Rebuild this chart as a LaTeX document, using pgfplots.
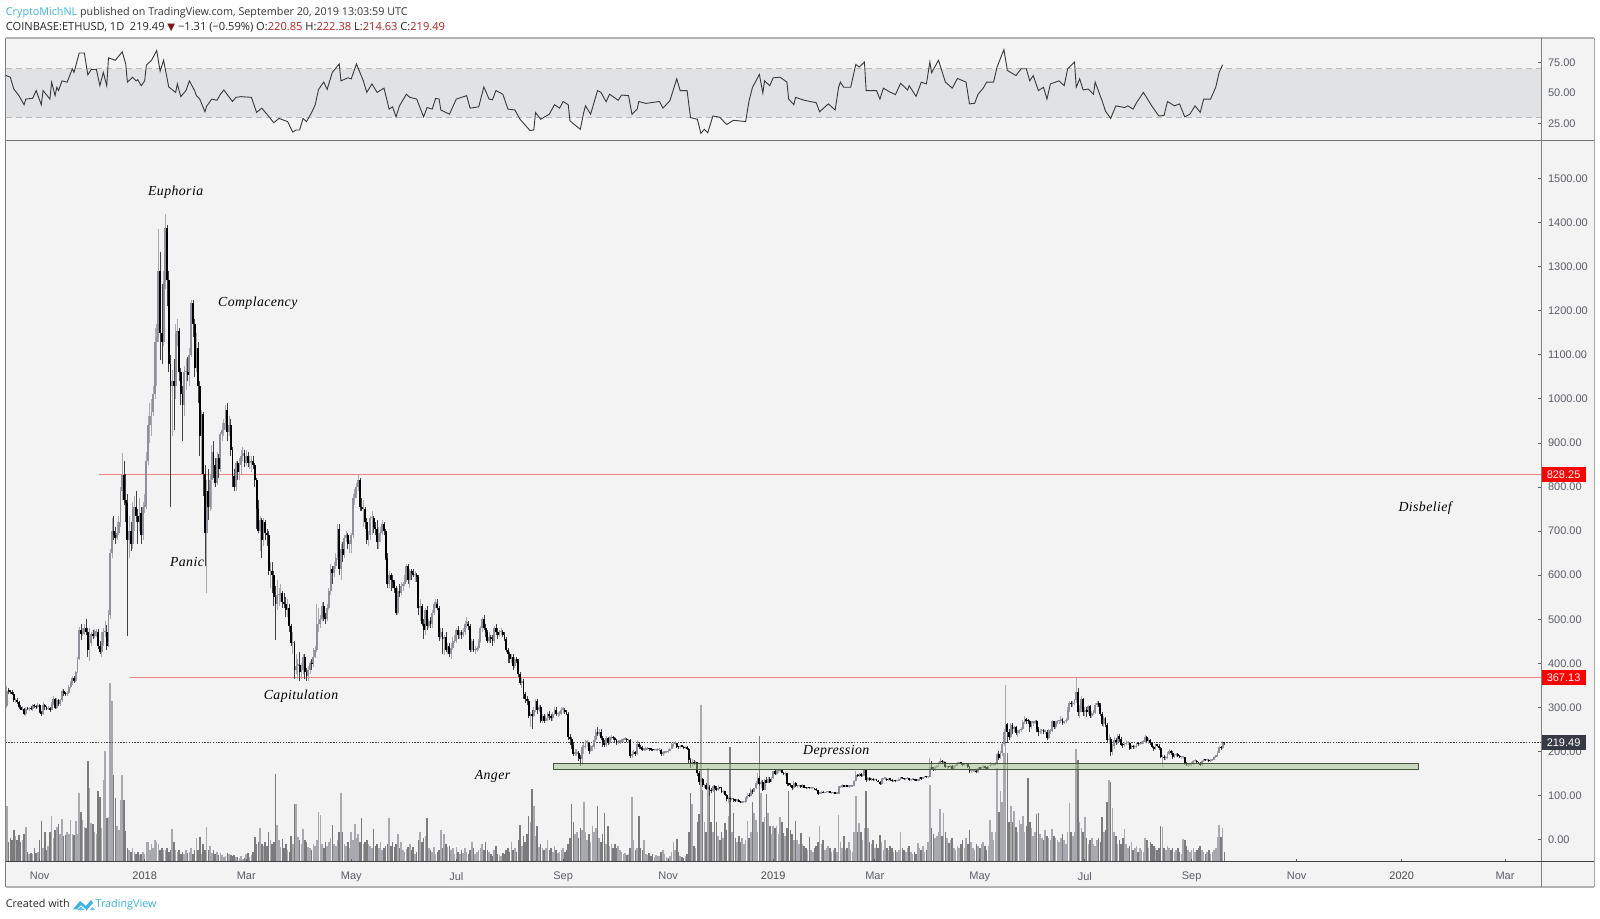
\documentclass[border=0pt]{standalone}
\usepackage{fontspec}
\usepackage{pgfplots}
\usepackage{pgfplotstable}
\pgfplotsset{compat=1.18}
\setmainfont{Liberation Sans}
\newfontfamily\tvf{Open Sans}
\newfontfamily\symf{DejaVu Sans}
\newfontfamily\annf[LetterSpace=3]{Liberation Serif}
\definecolor{pane}{HTML}{F3F3F3}
\definecolor{band}{HTML}{E1E2E4}
\definecolor{lbl}{HTML}{5A5D66}
\definecolor{upb}{HTML}{8E909A}
\definecolor{upw}{HTML}{A9AAB0}
\definecolor{volu}{HTML}{A8A9AF}
\definecolor{vold}{HTML}{7B7B7B}
\definecolor{lvlred}{RGB}{243,130,132}
\definecolor{tvb}{HTML}{3BB3E4}
\definecolor{ohlc}{HTML}{B22222}
% day (0 = 1 Jan 2018), open, close, high, low, volume
\def\ohlcdata{%
-80 302 338 348 298 56
-79 338 337 345 331 20
-78 337 334 340 331 24
-77 334 331 340 328 22
-76 331 316 335 312 32
-75 316 316 322 309 26
-74 316 312 321 308 22
-73 312 300 315 297 27
-72 300 295 305 293 20
-71 295 296 302 292 22
-70 296 285 298 282 28
-69 285 297 300 281 35
-68 297 296 301 293 10
-67 296 297 300 292 8
-66 297 296 302 293 9
-65 296 305 307 292 8
-64 305 303 308 299 14
-63 303 301 306 297 9
-62 301 305 309 299 10
-61 305 290 308 288 22
-60 290 285 292 281 41
-59 285 305 312 283 14
-58 305 300 307 295 30
-57 300 296 304 293 12
-56 296 298 303 293 16
-55 298 295 300 290 30
-54 295 308 312 293 46
-53 308 320 326 305 24
-52 320 299 322 296 32
-51 299 316 322 297 35
-50 316 307 320 303 38
-49 307 316 320 304 28
-48 316 337 340 313 43
-47 337 332 341 326 26
-46 332 330 335 326 27
-45 330 332 338 325 30
-44 332 347 350 330 28
-43 347 355 360 345 42
-42 355 366 372 350 28
-41 366 360 372 355 27
-40 360 381 382 358 41
-39 381 410 415 378 28
-38 410 475 482 408 69
-37 475 466 490 452 50
-36 466 472 480 462 42
-35 472 480 490 465 35
-34 480 472 500 465 34
-33 472 430 480 415 101
-32 430 447 480 405 74
-31 447 466 470 440 39
-30 466 463 475 455 38
-29 463 470 478 458 30
-28 470 470 478 460 28
-27 470 440 478 432 71
-26 440 425 450 420 65
-25 425 445 470 415 34
-24 445 470 480 440 82
-23 470 472 495 460 111
-22 472 440 487 430 44
-21 440 510 520 438 45
-20 510 650 660 500 179
-19 650 700 730 640 161
-18 700 690 735 680 87
-17 690 685 710 670 64
-16 685 695 720 680 36
-15 695 720 735 690 32
-14 720 790 800 710 62
-13 790 827 877 770 87
-12 827 770 860 760 62
-11 770 763 830 720 31
-10 763 680 785 463 14
-9 680 700 735 640 12
-8 700 670 720 655 10
-7 670 750 765 660 14
-6 750 755 780 700 10
-5 755 735 790 720 8
-4 735 720 750 670 10
-3 720 740 775 700 7
-2 740 690 755 670 8
-1 690 755 765 680 10
0 755 760 785 740 8
1 760 860 880 750 20
2 860 940 960 850 20
3 940 960 990 900 12
4 960 970 1000 915 18
5 970 1010 1030 960 14
6 1010 1130 1160 1000 22
7 1130 1140 1170 1030 20
8 1140 1290 1386 1130 18
9 1290 1150 1333 1088 12
10 1150 1130 1260 1080 14
11 1130 1265 1290 1120 12
12 1265 1387 1420 1250 12
13 1387 1270 1395 1210 14
14 1270 1080 1290 1060 10
15 1080 1030 1100 755 12
16 1030 1040 1065 915 33
17 1040 1030 1090 930 20
18 1030 1150 1170 1000 12
19 1150 1155 1180 1120 10
20 1155 1060 1160 1040 12
21 1060 1010 1070 985 8
22 1010 985 1030 905 10
23 985 1060 1075 960 8
24 1060 1060 1090 1020 12
25 1060 1055 1095 1040 9
26 1055 1100 1115 1030 10
27 1100 1217 1225 1095 14
28 1217 1170 1225 1140 8
29 1170 1070 1180 1050 12
30 1070 1115 1150 1060 24
31 1115 1030 1130 990 12
32 1030 915 1040 870 25
33 915 965 975 830 8
34 965 830 970 780 18
35 830 695 850 620 12
36 695 790 815 560 35
37 790 755 840 725 12
38 755 815 830 745 16
39 815 880 895 750 9
40 880 850 905 820 12
41 850 810 865 800 8
42 810 865 880 805 10
43 865 840 875 820 7
44 840 920 925 835 9
45 920 930 945 905 7
46 930 945 955 915 5
47 945 975 985 930 6
48 975 925 990 905 9
49 925 940 960 915 8
50 940 885 955 870 7
51 885 825 890 800 6
52 825 800 840 790 7
53 800 855 860 790 5
54 855 835 860 815 5
55 835 850 865 815 4
56 850 870 885 830 6
57 870 878 890 860 3
58 878 855 885 845 4
59 855 870 885 848 8
60 870 855 880 845 9
61 855 855 870 840 5
62 855 860 870 835 7
63 860 850 870 840 10
64 850 815 855 800 25
65 815 750 820 705 18
66 750 700 770 695 20
67 700 725 735 655 34
68 725 680 730 640 18
69 680 720 730 665 16
70 720 695 725 680 20
71 695 690 705 665 16
72 690 610 700 600 30
73 610 610 630 570 22
74 610 600 630 560 18
75 600 550 610 530 20
76 550 535 575 453 88
77 535 555 590 520 37
78 555 555 570 530 22
79 555 560 580 540 15
80 560 540 565 525 23
81 540 535 560 525 14
82 535 520 550 505 18
83 520 525 545 505 12
84 525 485 535 470 10
85 485 445 490 440 26
86 445 445 470 420 18
87 445 385 450 365 58
88 385 395 420 375 58
89 395 397 410 365 25
90 397 380 425 360 22
91 380 385 400 365 18
92 385 415 420 375 33
93 415 380 420 365 22
94 380 372 390 360 20
95 372 385 395 360 15
96 385 400 405 375 14
97 400 398 410 385 12
98 398 415 435 392 18
99 415 430 440 412 16
100 430 490 535 425 22
101 490 490 525 470 50
102 490 500 510 480 47
103 500 530 540 495 18
104 530 505 540 495 14
105 505 500 515 490 20
106 500 525 535 495 16
107 525 565 570 520 20
108 565 615 625 555 24
109 615 605 620 580 37
110 605 620 630 595 18
111 620 640 650 615 16
112 640 705 715 635 22
113 705 615 715 600 30
114 615 660 670 590 69
115 660 645 675 630 30
116 645 685 690 640 18
117 685 690 700 675 16
118 690 670 695 660 20
119 670 670 680 650 14
120 670 690 695 650 30
121 690 775 785 685 22
122 775 785 795 760 38
123 785 800 810 775 24
124 800 816 827 790 28
125 816 755 820 745 20
126 755 750 775 745 44
127 750 750 770 710 18
128 750 720 755 705 20
129 720 680 730 670 22
130 680 690 700 665 18
131 690 730 735 680 16
132 730 730 745 690 14
133 730 710 735 695 33
134 710 705 720 690 16
135 705 675 725 660 18
136 675 695 710 660 14
137 695 695 710 675 20
138 695 715 725 690 12
139 715 700 720 690 14
140 700 640 705 635 16
141 640 580 650 570 18
142 580 600 610 570 44
143 600 590 605 565 16
144 590 585 600 570 20
145 585 570 590 560 15
146 570 515 575 510 18
147 515 565 570 510 28
148 565 560 580 550 14
149 560 575 585 555 20
150 575 580 585 565 12
151 580 590 600 575 10
152 590 620 625 585 13
153 620 590 625 580 15
154 590 610 615 570 18
155 610 605 615 590 12
156 605 600 615 595 15
157 600 600 610 585 8
158 600 595 605 585 10
159 595 525 600 510 22
160 525 530 545 495 30
161 530 490 535 485 20
162 490 475 500 455 24
163 475 520 525 465 26
164 520 485 530 475 44
165 485 495 500 480 14
166 495 490 505 480 12
167 490 515 520 480 10
168 515 535 540 510 15
169 535 535 545 525 8
170 535 525 545 520 10
171 525 460 530 450 12
172 460 470 480 455 32
173 470 455 480 420 14
174 455 460 465 418 28
175 460 430 470 425 18
176 430 440 445 420 15
177 440 420 445 415 16
178 420 435 445 410 12
179 435 450 460 430 14
180 450 450 465 445 8
181 450 475 480 445 15
182 475 465 485 455 10
183 465 470 475 455 8
184 470 465 475 455 12
185 465 470 480 460 9
186 470 490 495 465 14
187 490 490 505 480 10
188 490 485 495 475 8
189 485 430 490 425 12
190 430 450 455 425 20
191 450 430 455 425 14
192 430 430 440 420 8
193 430 435 440 425 10
194 435 450 455 430 12
195 450 480 485 445 14
196 480 500 505 470 18
197 500 480 510 475 12
198 480 470 490 460 20
199 470 450 475 445 12
200 450 460 470 445 10
201 460 455 465 445 8
202 455 450 465 440 6
203 450 480 485 445 12
204 480 470 490 465 16
205 470 465 480 455 8
206 465 470 475 460 7
207 470 470 480 465 6
208 470 465 475 460 9
209 465 455 470 450 8
210 455 430 460 425 12
211 430 420 435 400 14
212 420 410 425 400 10
213 410 415 420 400 20
214 415 395 420 385 12
215 395 410 415 390 14
216 410 405 415 400 10
217 405 375 410 370 22
218 375 355 380 350 37
219 355 360 370 345 16
220 360 330 365 320 26
221 330 320 335 310 20
222 320 315 325 305 28
223 315 280 320 275 46
224 280 285 290 255 40
225 285 280 295 252 73
226 280 295 300 278 56
227 295 315 320 290 26
228 315 295 320 285 36
229 295 300 305 290 15
230 300 270 305 265 18
231 270 280 285 265 14
232 280 270 285 265 12
233 270 275 282 268 14
234 275 285 290 270 22
235 285 280 292 272 12
236 280 275 285 268 14
237 275 285 290 270 10
238 285 295 300 282 16
239 295 285 300 280 12
240 285 285 290 278 9
241 285 285 292 280 10
242 285 295 300 282 12
243 295 295 300 288 14
244 295 290 298 285 10
245 290 285 293 282 12
246 285 232 290 225 18
247 232 228 240 215 24
248 228 215 232 205 58
249 215 195 222 190 40
250 195 195 205 190 28
251 195 197 205 190 30
252 197 185 202 178 24
253 185 183 192 168 34
254 183 210 215 169 32
255 210 210 220 195 60
256 210 220 225 205 30
257 220 220 225 210 22
258 220 200 222 195 28
259 200 210 215 198 20
260 210 210 215 200 36
261 210 225 235 205 30
262 225 245 250 222 34
263 245 240 255 235 56
264 240 245 250 235 24
265 245 230 250 225 20
266 230 220 235 210 28
267 220 215 225 210 49
268 215 230 235 210 18
269 230 220 232 215 36
270 220 230 235 218 16
271 230 232 237 225 18
272 232 230 235 225 14
273 230 225 232 222 18
274 225 220 228 215 14
275 220 222 226 218 16
276 222 222 226 218 12
277 222 225 228 220 10
278 225 227 230 222 8
279 227 229 232 225 9
280 229 225 231 222 7
281 225 225 228 220 8
282 225 190 228 185 14
283 190 195 200 185 65
284 195 197 203 192 22
285 197 195 200 190 12
286 195 218 225 193 14
287 218 210 220 205 46
288 210 208 215 205 14
289 208 204 212 202 12
290 204 204 208 200 22
291 204 206 210 202 8
292 206 206 209 203 7
293 206 205 208 202 9
294 205 204 207 200 6
295 204 203 206 200 8
296 203 203 206 201 5
297 203 203 205 200 7
298 203 204 207 201 6
299 204 204 206 200 6
300 204 195 205 190 10
301 195 197 200 190 12
302 197 198 200 195 8
303 198 199 201 196 5
304 199 201 205 197 4
305 201 206 208 200 6
306 206 215 220 205 10
307 215 218 222 210 20
308 218 219 224 214 12
309 219 210 220 208 23
310 210 209 212 205 10
311 209 212 214 207 6
312 212 211 214 209 5
313 211 207 213 205 4
314 207 210 212 205 6
315 210 206 213 204 8
316 206 180 208 172 30
317 180 173 185 163 69
318 173 176 182 165 58
319 176 174 180 170 16
320 174 175 178 172 14
321 175 150 176 145 40
322 150 130 155 125 48
323 130 137 142 125 157
324 137 124 140 120 72
325 124 125 127 118 40
326 125 115 128 112 30
327 115 120 125 108 94
328 120 113 125 100 69
329 113 110 118 105 40
330 110 122 124 108 30
331 122 118 125 115 77
332 118 113 122 110 40
333 113 118 123 110 26
334 118 116 120 114 22
335 116 108 119 105 30
336 108 110 112 103 24
337 110 102 111 100 39
338 102 92 103 87 32
339 92 93 96 84 46
340 93 91 97 86 115
341 91 93 95 89 30
342 93 90 95 85 49
343 90 88 92 86 24
344 88 90 91 86 20
345 90 86 91 85 26
346 86 84 87 82 20
347 84 84 86 82 24
348 85 85 87 83 18
349 85 94 97 84 22
350 94 100 105 92 41
351 100 99 106 96 24
352 99 113 118 98 30
353 113 109 115 103 60
354 109 117 118 107 49
355 117 128 132 115 42
356 128 139 150 125 30
357 139 127 145 122 126
358 127 130 135 118 69
359 130 113 135 111 40
360 113 136 138 112 45
361 136 129 143 128 68
362 129 138 142 128 49
363 138 131 141 128 36
364 131 139 141 130 28
365 139 155 156 138 36
366 155 149 157 147 34
367 149 155 157 147 36
368 155 155 160 152 28
369 155 158 160 153 45
370 158 151 160 150 40
371 151 149 153 146 29
372 149 150 153 145 26
373 150 127 151 122 34
374 127 125 129 122 71
375 125 123 128 120 32
376 123 116 125 113 28
377 116 129 132 115 22
378 129 121 130 120 41
379 121 122 125 118 22
380 122 123 125 119 18
381 123 120 124 118 29
382 120 123 127 118 18
383 123 118 124 116 16
384 118 117 120 114 14
385 117 118 120 115 12
386 118 116 119 114 25
387 116 116 118 114 12
388 116 116 117 114 10
389 116 115 117 113 14
390 115 112 116 110 16
391 112 104 113 102 20
392 104 105 108 103 36
393 105 109 110 103 18
394 109 106 110 105 22
395 106 107 109 105 12
396 107 108 109 105 14
397 108 110 111 106 16
398 110 106 111 105 14
399 106 106 107 104 10
400 106 106 107 104 12
401 106 104 107 103 14
402 104 104 105 103 10
403 104 119 121 104 47
404 119 119 121 117 20
405 119 124 126 118 14
406 124 120 125 119 26
407 120 121 123 119 12
408 121 120 123 119 14
409 120 120 121 118 20
410 120 120 122 119 12
411 120 122 123 120 10
412 122 133 135 121 30
413 133 146 155 132 66
414 146 144 148 141 30
415 144 149 151 143 39
416 149 144 150 141 30
417 144 147 149 142 22
418 147 157 161 145 34
419 157 135 160 131 71
420 135 139 141 133 34
421 139 136 141 134 20
422 136 137 139 132 18
423 137 135 140 133 22
424 135 136 138 134 14
425 136 134 138 132 18
426 134 131 136 130 14
427 131 126 133 124 27
428 126 137 139 125 20
429 137 138 140 135 12
430 138 138 141 136 22
431 138 135 140 132 14
432 135 138 139 134 12
433 138 136 139 134 16
434 136 133 137 130 14
435 133 134 136 131 10
436 134 133 135 131 12
437 133 133 136 132 10
438 133 137 139 132 12
439 137 142 143 136 30
440 142 139 143 138 14
441 139 137 140 136 12
442 137 139 140 136 10
443 139 139 142 137 14
444 139 135 140 133 16
445 135 136 138 134 10
446 136 137 138 135 8
447 137 135 138 134 10
448 135 134 136 132 8
449 134 134 136 132 19
450 134 140 142 133 14
451 140 138 141 136 12
452 138 142 143 137 16
453 142 142 144 140 10
454 142 141 143 139 12
455 141 142 145 139 20
456 142 164 185 141 77
457 164 160 178 158 34
458 160 157 165 155 28
459 157 164 168 155 24
460 164 165 169 162 26
461 165 174 176 164 30
462 174 178 186 172 53
463 178 175 181 172 26
464 175 175 178 172 49
465 175 165 176 162 30
466 165 165 168 160 24
467 165 164 167 162 19
468 164 168 169 162 22
469 168 161 170 158 24
470 161 167 169 160 14
471 167 167 169 164 12
472 167 173 176 166 16
473 173 174 176 172 14
474 174 173 176 170 18
475 173 170 174 168 22
476 170 171 174 168 14
477 171 171 173 168 24
478 171 165 172 163 18
479 165 155 166 152 32
480 155 155 157 150 20
481 155 156 158 153 14
482 156 156 158 153 12
483 156 153 158 150 18
484 153 162 164 152 16
485 162 161 164 160 14
486 161 162 163 160 18
487 162 167 170 161 20
488 167 162 168 160 16
489 162 161 164 159 12
490 161 166 168 159 16
491 166 170 175 165 42
492 170 170 173 167 30
493 170 170 172 168 22
494 170 172 175 168 30
495 172 195 197 170 94
496 195 186 200 180 50
497 186 196 200 183 71
498 196 216 220 190 60
499 216 245 250 212 109
500 245 262 350 240 168
501 262 245 265 220 109
502 245 232 250 225 40
503 232 260 265 230 56
504 260 250 265 240 40
505 250 255 258 245 51
506 255 242 258 238 35
507 242 245 248 232 30
508 245 248 250 240 42
509 248 251 255 244 38
510 251 267 272 248 46
511 267 272 280 262 30
512 272 270 276 262 36
513 270 268 274 262 84
514 268 255 272 245 40
515 255 265 270 250 34
516 265 265 268 258 26
517 265 270 272 262 30
518 270 250 272 245 48
519 250 243 255 235 49
520 243 246 250 240 28
521 246 246 250 240 24
522 246 245 250 240 22
523 245 245 248 240 32
524 245 230 248 225 26
525 230 245 250 228 24
526 245 246 250 240 22
527 246 268 272 244 33
528 268 255 270 250 26
529 255 265 268 252 24
530 265 268 272 262 22
531 268 268 272 263 20
532 268 274 280 265 24
533 274 264 276 260 28
534 264 268 270 262 22
535 268 272 276 265 18
536 272 295 300 270 30
537 295 310 315 290 59
538 310 307 315 300 30
539 307 310 315 300 26
540 310 316 320 305 30
541 316 335 367 310 113
542 335 290 345 280 102
543 290 296 305 275 40
544 296 320 325 290 34
545 320 290 322 280 30
546 290 295 300 280 45
547 295 290 300 278 24
548 290 302 305 285 18
549 302 280 305 275 22
550 280 288 292 275 24
551 288 288 295 282 18
552 288 305 310 285 16
553 305 310 315 300 22
554 310 305 315 300 24
555 305 285 310 280 20
556 285 262 290 258 45
557 262 275 280 255 30
558 275 260 278 255 32
559 260 225 265 220 60
560 225 228 240 218 82
561 228 198 232 190 80
562 198 212 216 192 54
563 212 226 232 205 30
564 226 222 230 215 26
565 222 236 240 218 18
566 236 228 240 222 22
567 228 215 232 212 18
568 215 214 220 208 24
569 214 217 222 210 33
570 217 219 225 214 18
571 219 219 224 215 14
572 219 206 222 204 16
573 206 212 214 205 20
574 212 210 215 206 12
575 210 210 215 205 14
576 210 218 220 208 16
577 218 216 222 212 10
578 216 217 220 214 14
579 217 221 224 216 12
580 221 222 226 218 10
581 222 233 238 220 24
582 233 224 236 220 22
583 224 226 230 218 14
584 226 220 228 215 20
585 220 210 222 208 18
586 210 206 212 202 16
587 206 216 218 204 14
588 216 213 218 210 12
589 213 208 216 204 14
590 208 187 210 185 36
591 187 187 192 165 35
592 187 185 192 180 14
593 185 185 190 180 12
594 185 195 198 182 16
595 195 202 205 192 14
596 202 197 204 193 12
597 197 187 200 183 14
598 187 191 194 185 10
599 191 194 197 188 12
600 194 190 196 188 14
601 190 187 192 185 10
602 187 187 190 184 8
603 187 187 190 184 23
604 187 173 188 170 22
605 173 169 175 166 16
606 169 169 172 165 12
607 169 172 174 167 10
608 172 172 175 168 12
609 172 178 180 170 14
610 178 179 182 175 10
611 179 175 180 172 12
612 175 174 177 171 14
613 174 170 176 166 16
614 170 178 180 168 12
615 178 181 184 176 10
616 181 180 183 178 8
617 180 180 183 178 10
618 180 178 182 175 12
619 178 181 184 176 8
620 181 181 184 178 10
621 181 188 190 180 12
622 188 189 192 186 14
623 189 197 200 188 25
624 197 209 212 196 37
625 209 208 212 203 25
626 208 221 224 205 34
627 221 219 222 215 10
}
% sort the rows into rising and falling days: wicks, bodies and volume
\def\upw{}\def\dnw{}\def\upb{}\def\dnb{}\def\upv{}\def\dnv{}
\def\rd#1 #2 #3 #4 #5 #6 {\ifnum#1=99999 \else
 \ifnum#3<#2
  \edef\dnw{\dnw(#1,#5)(#1,#4)(#1,nan)}%
  \edef\dnb{\dnb(#1,#3)(#1,\ifnum\numexpr#2-#3\relax<3 \the\numexpr#3+3\relax\else#2\fi)(#1,nan)}%
  \edef\dnv{\dnv(#1,#6)}%
 \else
  \edef\upw{\upw(#1,#5)(#1,#4)(#1,nan)}%
  \edef\upb{\upb(#1,#2)(#1,\ifnum\numexpr#3-#2\relax<3 \the\numexpr#2+3\relax\else#3\fi)(#1,nan)}%
  \edef\upv{\upv(#1,#6)}%
 \fi
 \expandafter\rd\fi}
\expandafter\rd\ohlcdata 99999 0 0 0 0 0 %
\newcommand\plotc[2]{\def\plotcnext{\addplot[#1] coordinates}\expandafter\plotcnext\expandafter{#2};}
\pgfplotstableread{
d r
-80.5 64.4
-78 63
-76 53.3
-73 47.8
-70 40.3
-69 45
-65 45.6
-63 52
-60 40.3
-59 52
-55 45
-54 58.9
-52 47.8
-51 54.7
-50 52
-48 60
-45 58.9
-42 70
-41 67
-38 83
-35 83
-33 65
-31 69.4
-28 69.4
-26 56
-24 67
-22 56
-21 79
-17 77
-13 84
-11 74
-10 59
-7 63
-5 60
-4 61
-2 56
0 60
1 73
4 77
7 85
9 68
11 77
14 55
18 50.5
19 57.5
21 47
24 52
26 60
29 52
30 48
32 45
35 34.5
36 39
39 45
42 44
44 49
46 52.5
51 43
53 46.4
56 47
62 46.4
65 34
68 37.5
71 32.5
75 25.5
78 29
83 26.4
86 17.8
88 19.5
90 19.5
92 29
94 26.4
97 34
99 40
101 53
104 59
106 53
109 67
113 74
114 60
118 62.5
120 61.7
123 74
127 60
129 50.5
132 57.5
135 50.5
139 54
142 36.7
144 38.6
146 30.3
148 39.4
152 49
154 46.4
158 45
162 30.3
164 38
167 36.7
169 45.6
171 45
172 36
177 32.5
181 45
187 47.8
189 37.5
194 38.6
197 55
200 45
202 44.4
204 52
208 49
211 36.7
215 36
218 28.3
223.8 19
226 19.5
227 33.9
230 28.3
235 32.5
238 40.3
241 37.5
243 43
246 40.3
247 27
253 20
255 34
256 39.4
259 32.5
263 52
265 50.5
268 42.8
270 49
275 44
277 48.3
281 47.8
283 32.5
286 36.7
287 43
291 41.4
299 43
301 37.5
305 43.6
309 61.7
311 52
315 52
317 29.7
321 28.3
323 16.7
325 20
327 17.2
330 31
334 30
338 24
342 27.5
349 26.4
351 43.6
353 54.7
357 65.3
359 50
360 60
363 56
365 62.5
369 63
373 59
374 45
377 40.3
378 46.4
383 44
390 42
392 34.5
397 41
401 36
403 54.7
404 59
406 54.7
410 54.7
413 73.6
415 71.4
418 75.6
419 52
425 52
427 45
429 54
432 51.4
436 48.6
439 58
443 52.5
444 56
448 47.2
451 58.9
454 57.5
456 75.6
457 66.7
461 77
465 59
469 54
472 62
477 59
479 41
482 41.5
484 49
487 54
489 59
493 59
495 71.4
499 85.8
501 68.6
506 64.4
509 70
512 70
514 60
516 64.4
519 52
522 54.7
524 45
526 57.5
531 60
534 56
536 70
540 75.6
541 54.7
543 61.7
545 52.5
548 53.3
551 49
552 59
556 43.6
558 35
561 29
564 39.4
569 38
571 39.4
574 36.7
576 42
580 50.5
585 39
589 31
592 31.5
594 43
598 39.4
601 41
604 30.3
607 32.5
610 39.4
613 34
615 45
619 45
622 54.7
624 67
626 73.3
}\rsi
\pgfplotsset{
 base/.style={scale only axis,width=767.75pt,xmin=-80.8,xmax=810.9,anchor=south west,
   /pgf/number format/fixed,/pgf/number format/fixed zerofill,/pgf/number format/precision=2,
   /pgf/number format/1000 sep={},/pgf/number format/assume math mode=true,
   ticklabel style={font=\fontsize{5.5pt}{6pt}\selectfont,text=lbl},
   tick style={color=lbl,line width=.4pt},major tick length=1.6pt},
}
\begin{document}
\begin{tikzpicture}
\path[use as bounding box] (0pt,0pt) rectangle (800pt,459.5pt);
% frame
\fill[pane] (2.75pt,16pt) rectangle (797pt,440.5pt);
\draw[color=black!30,line width=.7pt] (2.75pt,440.5pt) -- (797pt,440.5pt);
\draw[color=black!30,line width=.9pt] (2.75pt,16pt) -- (797pt,16pt);
\draw[color=black!50,line width=.5pt] (2.75pt,16pt) -- (2.75pt,440.5pt);
\draw[color=black!35,line width=.5pt] (797pt,16pt) -- (797pt,440.5pt);
% RSI
\begin{axis}[base,at={(2.75pt,389pt)},height=51.5pt,ymin=10.4,ymax=95.4,
  axis line style={draw=none},ytick={25,50,75},xtick=\empty,
  ytick pos=right,yticklabel pos=right,clip=true]
\addplot[fill=band,draw=none] coordinates {(-80.8,30)(810.9,30)(810.9,70)(-80.8,70)} --cycle;
\addplot[color=black!28,dash pattern=on 3pt off 2pt,line width=.4pt] coordinates {(-80.8,70)(810.9,70)};
\addplot[color=black!28,dash pattern=on 3pt off 2pt,line width=.4pt] coordinates {(-80.8,30)(810.9,30)};
\addplot[color=black!78,line width=.45pt] table[x=d,y=r] {\rsi};
\end{axis}
% volume
\begin{axis}[base,at={(2.75pt,28.5pt)},height=360.5pt,ymin=0,ymax=721,hide axis]
\plotc{ycomb,color=volu,line width=.78pt,mark=none}{\upv}
\plotc{ycomb,color=vold,line width=.78pt,mark=none}{\dnv}
\end{axis}
% price
\begin{axis}[base,at={(2.75pt,28.5pt)},height=360.5pt,ymin=-50.8,ymax=1585,clip=false,
  axis y line*=right,axis x line*=bottom,
  x axis line style={color=black!75,line width=.5pt},y axis line style={color=black!50,line width=.5pt},
  xtick={-61,0,59,120,181,243,304,365,424,485,546,608,669,730,790},
  xticklabels={Nov,\textcolor{black!70}{2018},Mar,May,Jul,Sep,Nov,\textcolor{black!70}{2019},Mar,May,Jul,Sep,Nov,\textcolor{black!70}{2020},Mar},
  xticklabel style={yshift=-1.5pt},
  ytick={0,100,...,1500},unbounded coords=jump]
\addplot[color=black!75,dash pattern=on .7pt off .7pt,line width=.4pt] coordinates {(-80.8,219.49)(810.9,219.49)};
\addplot[draw=lvlred,line width=.6pt] coordinates {(-26.5,828.25)(810.9,828.25)};
\addplot[draw=lvlred,line width=.6pt] coordinates {(-8.5,367.13)(810.9,367.13)};
% wicks
\plotc{color=upw,line width=.4pt,mark=none}{\upw}
\plotc{color=black!75,line width=.35pt,mark=none}{\dnw}
% bodies
\plotc{color=upb,line width=.95pt,mark=none}{\upb}
\plotc{color=black,line width=.95pt,mark=none}{\dnb}
% support zone
\addplot[fill={rgb,255:red,160;green,190;blue,140},fill opacity=.5,draw={rgb,255:red,70;green,85;blue,65},line width=.45pt]
  coordinates {(237.4,158.6)(739.6,158.6)(739.6,172)(237.4,172)} --cycle;
% labels
\tikzset{ph/.style={font=\annf\itshape\fontsize{6.9pt}{8pt}\selectfont,text=black}}
\node[ph] at (axis cs:18,1468) {Euphoria};
\node[ph] at (axis cs:65.7,1217) {Complacency};
\node[ph] at (axis cs:24.6,630) {Panic};
\node[ph] at (axis cs:90.8,326) {Capitulation};
\node[ph] at (axis cs:202,143) {Anger};
\node[ph] at (axis cs:401.6,201) {Depression};
\node[ph] at (axis cs:743.6,752) {Disbelief};
\tikzset{pl/.style={font=\fontsize{5.5pt}{6pt}\selectfont,text=white,minimum width=22.6pt,minimum height=7.4pt,inner sep=0pt}}
\node[pl,fill=red] at (axis cs:824,828.25) {828.25};
\node[pl,fill=red] at (axis cs:824,367.13) {367.13};
\node[pl,fill={rgb,255:red,54;green,58;blue,69}] at (axis cs:824,219.49) {219.49};
\end{axis}
% separators over everything
\draw[color=black!55,line width=.5pt] (2.75pt,389pt) -- (797pt,389pt);
\draw[color=black!50,line width=.5pt] (770.5pt,16pt) -- (770.5pt,440.5pt);
\draw[color=black!75,line width=.5pt] (770.5pt,28.5pt) -- (797pt,28.5pt);
% header and footer
\node[anchor=base west,inner sep=0pt,font=\tvf\fontsize{5.38pt}{6pt}\selectfont,text=black!80] at (2.75pt,451.5pt)
 {\textcolor{tvb}{CryptoMichNL} published on TradingView.com, September 20, 2019 13:03:59 UTC};
\node[anchor=base west,inner sep=0pt,font=\tvf\fontsize{5.55pt}{6pt}\selectfont,text=black!85] at (2.75pt,444.3pt)
 {COINBASE:ETHUSD, 1D\enspace 219.49 \textcolor{ohlc!70!black}{\symf\fontsize{5pt}{6pt}\selectfont▼} −1.31 (−0.59\%) O:\textcolor{ohlc}{220.85} H:\textcolor{ohlc}{222.38} L:\textcolor{ohlc}{214.63} C:\textcolor{ohlc}{219.49}};
\node[anchor=base west,inner sep=0pt,font=\tvf\fontsize{5.4pt}{6pt}\selectfont,text=black!85] at (2.75pt,5.8pt) {Created with};
\fill[tvb] (36.5pt,4.8pt) -- (40pt,9pt) -- (43pt,6.5pt) -- (45.5pt,9.5pt) -- (46.5pt,8pt) -- (43pt,4pt) -- (43pt,4.8pt) -- (40.5pt,7pt) -- (38.5pt,4.8pt) -- cycle;
\fill[tvb!80] (38.5pt,4.4pt) -- (40.5pt,6.2pt) -- (42.6pt,4.4pt) -- cycle;
\fill[tvb!80] (44.8pt,4.4pt) -- (46.2pt,6pt) -- (47.6pt,4.4pt) -- cycle;
\node[anchor=base west,inner sep=0pt,font=\tvf\fontsize{5.4pt}{6pt}\selectfont,text=tvb] at (47.6pt,5.8pt) {TradingView};
\end{tikzpicture}
\end{document}
